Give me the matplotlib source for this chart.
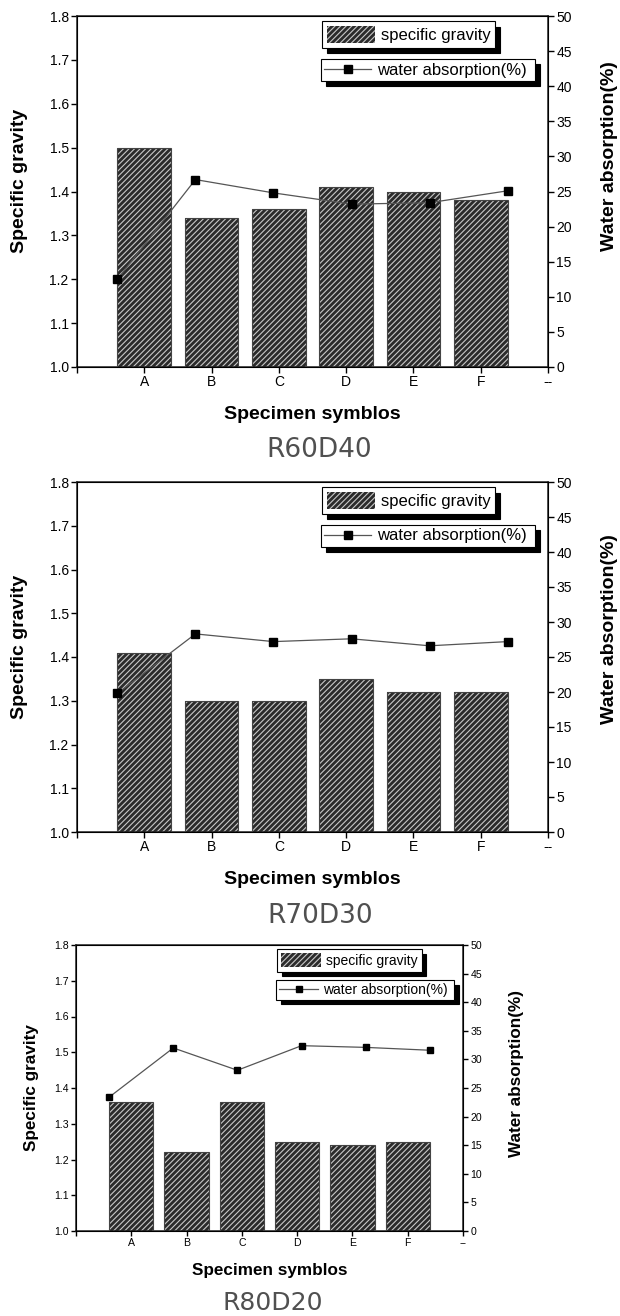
import numpy as np
import matplotlib
matplotlib.use("Agg")
import matplotlib.pyplot as plt
from matplotlib.patches import Patch
from matplotlib.lines import Line2D

plt.rcParams['font.family'] = ['Liberation Sans', 'DejaVu Sans']
plt.rcParams['hatch.linewidth'] = 0.8

# ---------------- data ----------------
categories = ['A', 'B', 'C', 'D', 'E', 'F']
xtick_labels = ['', 'A', 'B', 'C', 'D', 'E', 'F', '--']

titles = ['R60D40', 'R70D30', 'R80D20']

sg_r60d40 = [1.50, 1.34, 1.36, 1.41, 1.40, 1.38]
wa_r60d40 = [12.5, 26.7, 24.8, 23.2, 23.4, 25.1]

sg_r70d30 = [1.41, 1.30, 1.30, 1.35, 1.32, 1.32]
wa_r70d30 = [19.8, 28.3, 27.2, 27.6, 26.6, 27.2]

sg_r80d20 = [1.36, 1.22, 1.36, 1.25, 1.24, 1.25]
wa_r80d20 = [23.4, 32.0, 28.1, 32.4, 32.1, 31.6]

left_ticks = [1.0, 1.1, 1.2, 1.3, 1.4, 1.5, 1.6, 1.7, 1.8]
right_ticks = [0, 5, 10, 15, 20, 25, 30, 35, 40, 45, 50]

W, H = 620, 1316
fig = plt.figure(figsize=(W / 100, H / 100), dpi=100)


def px_rect(l, r, t, b):
    return [l / W, 1 - b / H, (r - l) / W, (b - t) / H]


def panel(rect, sg, wa, title, title_xy, small=False, lab_y=(0.53, 0.58),
          lab_x=(-0.103, 1.113)):
    s = 0.82 if small else 1.0
    ax = fig.add_axes(rect)
    pos = np.arange(1, len(categories) + 1)
    bw = 0.8
    ax.bar(pos, np.array(sg) - 1.0, bottom=1.0, width=bw, color='#2b2b2b',
           edgecolor='#c8c8c8', hatch='//////', linewidth=0, zorder=2)
    ax.bar(pos, np.array(sg) - 1.0, bottom=1.0, width=bw, fill=False,
           edgecolor='#444444', linewidth=0.8, zorder=3)
    ax.set_xlim(0, len(categories) + 1)
    ax.set_ylim(1.0, 1.8)
    ax.set_xticks(np.arange(0, len(categories) + 2))
    ax.set_xticklabels(xtick_labels)
    ax.set_yticks(left_ticks)
    ax.set_yticklabels(['%.1f' % v for v in left_ticks])
    tick_fs = 7.6 if small else 10
    ax.tick_params(axis='both', direction='out', length=4 * s, width=1,
                   labelsize=tick_fs, colors='black', pad=2)
    for sp in ax.spines.values():
        sp.set_linewidth(1.1)
        sp.set_color('#222222')

    ax2 = ax.twinx()
    ax2.set_ylim(0, 50)
    ax2.set_yticks(right_ticks)
    ax2.tick_params(axis='y', direction='out', length=4 * s, width=1,
                    labelsize=tick_fs, pad=2)
    # line spans from left edge of first bar to right edge of last bar
    xl = np.linspace(pos[0] - bw / 2, pos[-1] + bw / 2, len(pos))
    ax2.plot(xl, wa, color='#555555', lw=0.9, marker='s',
             markersize=6 * s, markerfacecolor='black',
             markeredgecolor='black', zorder=4)

    lab_fs = 12.3 if small else 14
    ax.set_xlabel('Specimen symblos', fontsize=lab_fs, fontweight='bold')
    ax.xaxis.set_label_coords(0.5, -0.112)
    ax.set_ylabel('Specific gravity', fontsize=lab_fs, fontweight='bold')
    ax.yaxis.set_label_coords(lab_x[0], lab_y[0])
    ax2.set_ylabel('Water absorption(%)', fontsize=lab_fs, fontweight='bold',
                   rotation=90)
    ax2.yaxis.set_label_coords(lab_x[1], lab_y[1])

    leg_fs = 10 if small else 12
    sh = {'ox': 3.8 * s, 'oy': -3.8 * s, 'color': 'black', 'alpha': 1}
    h1 = Patch(facecolor='#2b2b2b', edgecolor='#c8c8c8', hatch='//////',
               linewidth=0)
    l1 = ax2.legend([h1], ['specific gravity'], loc='upper left',
                    bbox_to_anchor=(0.52, 0.985), borderaxespad=0,
                    fontsize=leg_fs, frameon=True, fancybox=False,
                    shadow=sh, framealpha=1, edgecolor='black',
                    handlelength=2.9, handleheight=1.2, handletextpad=0.35,
                    borderpad=0.28)
    l1.get_frame().set_linewidth(0.8)
    ax2.add_artist(l1)
    h2 = Line2D([], [], color='#555555', lw=0.9, marker='s',
                markersize=6 * s, markerfacecolor='black',
                markeredgecolor='black')
    l2 = ax2.legend([h2], ['water absorption(%) '], loc='upper left',
                    bbox_to_anchor=(0.518, 0.877), borderaxespad=0,
                    fontsize=leg_fs, frameon=True, fancybox=False,
                    shadow=sh, framealpha=1, edgecolor='black',
                    handlelength=2.8, handletextpad=0.35, borderpad=0.2,
                    numpoints=1)
    l2.get_frame().set_linewidth(0.8)

    fig.text(title_xy[0] / W, 1 - title_xy[1] / H, title,
             ha='center', va='center', fontsize=18 if small else 19,
             color='#505050', family='DejaVu Sans')
    return ax, ax2


panel(px_rect(77, 548, 16, 367), sg_r60d40, wa_r60d40, titles[0], (319, 450),
      lab_y=(0.53, 0.6))
panel(px_rect(77, 548, 482, 832), sg_r70d30, wa_r70d30, titles[1], (320, 916),
      lab_y=(0.53, 0.58))
panel(px_rect(76, 463, 945, 1231), sg_r80d20, wa_r80d20, titles[2], (273, 1303),
      small=True, lab_y=(0.5, 0.55), lab_x=(-0.096, 1.119))

fig.savefig('out.png', dpi=100)
